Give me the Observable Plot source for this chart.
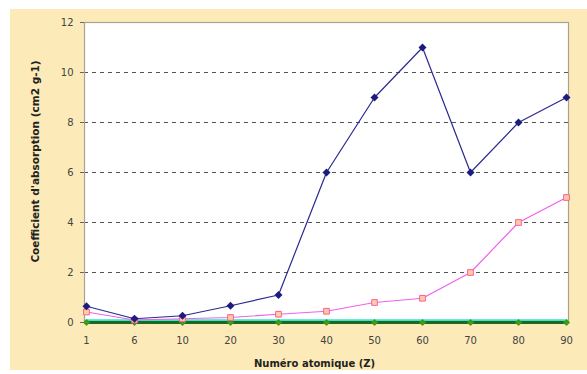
<!DOCTYPE html>
<html>
<head>
<meta charset="utf-8">
<script src="https://cdn.jsdelivr.net/npm/d3@7"></script>
<script src="https://cdn.jsdelivr.net/npm/@observablehq/plot@0.6"></script>
<style>
  html, body { margin: 0; padding: 0; background: #ffffff; }
  #panel { position: absolute; left: 10px; top: 9px; width: 577px; height: 361px; background: #fcebb8; }
  #panel svg { display: block; }
</style>
</head>
<body>
<div id="panel"></div>
<script>
const categories = ["1", "6", "10", "20", "30", "40", "50", "60", "70", "80", "90"];
const serieBleue = [0.65, 0.15, 0.27, 0.67, 1.1, 6, 9, 11, 6, 8, 9];
const serieRose = [0.42, 0.1, 0.15, 0.2, 0.33, 0.45, 0.8, 0.97, 2, 4, 5];
const serieCyan = [0.07, 0.07, 0.07, 0.07, 0.07, 0.07, 0.07, 0.07, 0.07, 0.07, 0.07];
const serieVerte = [0, 0, 0, 0, 0, 0, 0, 0, 0, 0, 0];
const yTicks = [0, 2, 4, 6, 8, 10, 12];
const gridLevels = [2, 4, 6, 8, 10];
const xTitle = "Numéro atomique (Z)";
const yTitle = "Coefficient d'absorption (cm2 g-1)";

const toRows = (vals) => categories.map((c, i) => ({z: c, v: vals[i]}));
const bleu = toRows(serieBleue);
const rose = toRows(serieRose);
const cyan = toRows(serieCyan);
const vert = toRows(serieVerte);

const chart = Plot.plot({
  width: 577,
  height: 361,
  marginLeft: 74,
  marginRight: 19,
  marginTop: 13,
  marginBottom: 48,
  style: {background: "transparent", fontFamily: "DejaVu Sans, Verdana, sans-serif"},
  x: {type: "point", domain: categories, padding: 0},
  y: {domain: [0, 12]},
  marks: [
    Plot.frame({fill: "white", stroke: "none"}),
    Plot.ruleY(gridLevels, {stroke: "#555", strokeWidth: 1, strokeDasharray: "4,4"}),
    Plot.frame({fill: "none", stroke: "#a8a290", strokeWidth: 1.2}),
    Plot.axisY({ticks: yTicks, tickSize: 4, tickPadding: 7, fontSize: 10, fill: "#444", stroke: "#666", label: null}),
    Plot.axisX({tickSize: 0, tickPadding: 14, fontSize: 10, fill: "#444", label: null}),
    Plot.text([xTitle], {frameAnchor: "bottom", dy: 44, text: d => d, fontWeight: "bold", fontSize: 10, fill: "#222", dx: -12}),
    Plot.text([yTitle], {frameAnchor: "left", textAnchor: "middle", dx: -49, dy: -11, rotate: -90, text: d => d, fontWeight: "bold", fontSize: 10.5, fill: "#222"}),
    Plot.line(cyan, {x: "z", y: "v", stroke: "#3fe0d0", strokeWidth: 3}),
    Plot.line(vert, {x: "z", y: "v", stroke: "#1d6a1d", strokeWidth: 3}),
    Plot.dot(vert, {x: "z", y: "v", symbol: "diamond2", r: 3.2, fill: "#3c9a1c", stroke: "none"}),
    Plot.line(rose, {x: "z", y: "v", stroke: "#f060f0", strokeWidth: 1.2}),
    Plot.dot(rose, {x: "z", y: "v", symbol: "square", r: 3.2, fill: "#ffd0a0", stroke: "#ff5a9a", strokeWidth: 1}),
    Plot.line(bleu, {x: "z", y: "v", stroke: "#2a2a90", strokeWidth: 1.2}),
    Plot.dot(bleu, {x: "z", y: "v", symbol: "diamond2", r: 3.6, fill: "#1c1c80", stroke: "none"})
  ]
});
document.getElementById("panel").appendChild(chart);
</script>
</body>
</html>
